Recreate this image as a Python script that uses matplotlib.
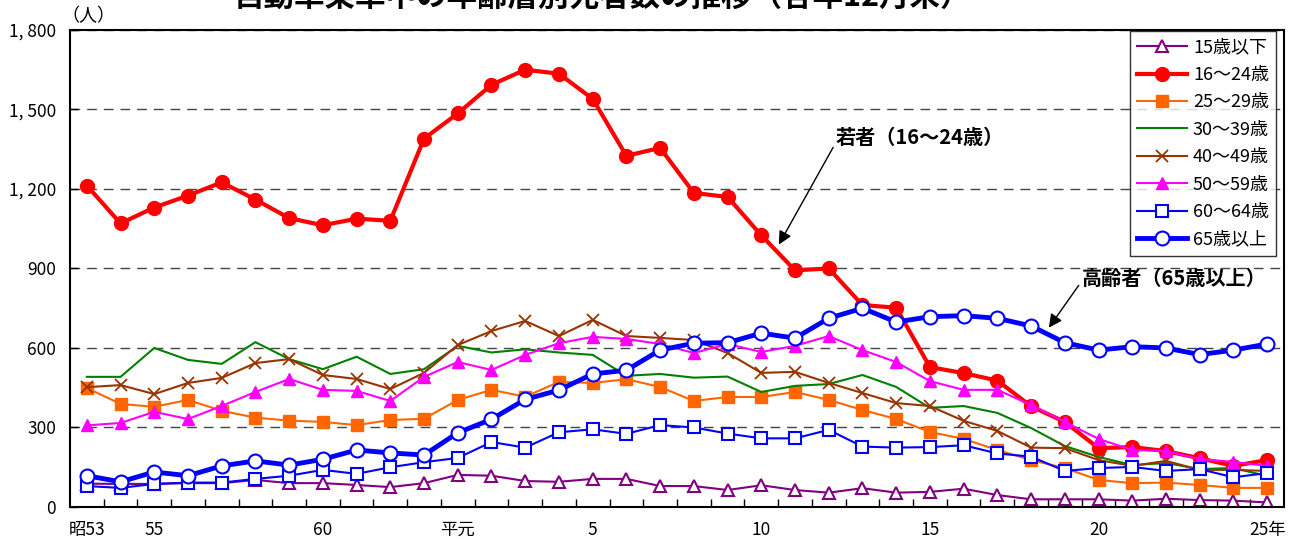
import matplotlib
matplotlib.use('Agg')
import matplotlib.pyplot as plt

plt.rcParams['font.family'] = ['Noto Sans CJK JP', 'DejaVu Sans']

# 昭和53年 ～ 平成25年
years = list(range(36))
tick_pos = [0, 2, 7, 11, 15, 20, 25, 30, 35]
tick_labels = ['昭53', '55', '60', '平元', '5', '10', '15', '20', '25年']
y_ticks = [0, 300, 600, 900, 1200, 1500, 1800]
y_labels = ['0', '300', '600', '900', '1, 200', '1, 500', '1, 800']

age_u15 = [88, 87, 87, 90, 90, 102, 90, 90, 83, 75, 90, 121, 118, 98, 95, 106,
           106, 79, 79, 64, 82, 64, 54, 71, 54, 57, 69, 45, 29, 29, 29, 24, 31,
           26, 24, 17]
age_16_24 = [1213, 1070, 1130, 1175, 1225, 1160, 1090, 1063, 1088, 1080, 1390,
             1485, 1593, 1650, 1635, 1540, 1325, 1355, 1185, 1170, 1025, 893,
             900, 762, 752, 528, 505, 477, 380, 321, 222, 226, 211, 184, 155,
             177]
age_25_29 = [449, 389, 378, 404, 363, 337, 326, 321, 309, 328, 333, 404, 442,
             416, 472, 468, 482, 453, 400, 415, 415, 434, 404, 366, 332, 283,
             257, 215, 177, 147, 102, 90, 92, 83, 72, 72]
age_30_39 = [491, 491, 600, 555, 540, 622, 558, 520, 567, 502, 520, 608, 583,
             595, 583, 574, 495, 502, 488, 492, 434, 457, 464, 498, 453, 374,
             381, 355, 298, 230, 189, 158, 166, 143, 147, 117]
age_40_49 = [452, 460, 426, 468, 487, 543, 558, 498, 483, 445, 506, 611, 664,
             702, 645, 706, 645, 638, 630, 581, 506, 510, 468, 430, 392, 381,
             325, 287, 224, 222, 177, 155, 174, 140, 140, 136]
age_50_59 = [308, 317, 359, 332, 381, 434, 483, 442, 438, 400, 491, 547, 517,
             574, 618, 642, 634, 615, 581, 615, 585, 608, 645, 592, 547, 475,
             442, 442, 385, 321, 257, 215, 211, 181, 170, 155]
age_60_64 = [79, 72, 87, 92, 92, 106, 118, 140, 125, 150, 169, 185, 245, 224,
             282, 293, 276, 309, 300, 277, 259, 259, 291, 228, 224, 226, 233,
             202, 190, 136, 147, 151, 136, 143, 112, 128]
age_65 = [118, 95, 132, 118, 155, 174, 158, 180, 215, 204, 196, 280, 331, 406,
          441, 502, 516, 592, 618, 620, 656, 637, 712, 750, 698, 718, 722, 712,
          683, 620, 592, 605, 600, 575, 592, 615]

fig = plt.figure(figsize=(13, 5.39), dpi=100)
ax = fig.add_axes([0.0538, 0.0594, 0.9339, 0.885])

ax.plot(years, age_u15, color='#800080', lw=1.5, marker='^', ms=9,
        mfc='white', mec='#800080', mew=1.5, label='15歳以下')
ax.plot(years, age_16_24, color='#FF0000', lw=3, marker='o', ms=10,
        label='16～24歳')
ax.plot(years, age_25_29, color='#FF6600', lw=1.5, marker='s', ms=8,
        label='25～29歳')
ax.plot(years, age_30_39, color='#008000', lw=1.5, label='30～39歳')
ax.plot(years, age_40_49, color='#993300', lw=1.5, marker='x', ms=9, mew=1.3,
        label='40～49歳')
ax.plot(years, age_50_59, color='#FF00FF', lw=1.5, marker='^', ms=9,
        label='50～59歳')
ax.plot(years, age_60_64, color='#0000FF', lw=1.5, marker='s', ms=8,
        mfc='white', mec='#0000FF', mew=1.5, label='60～64歳')
ax.plot(years, age_65, color='#0000FF', lw=3.5, marker='o', ms=10,
        mfc='white', mec='#0000FF', mew=1.5, label='65歳以上')

ax.set_xlim(-0.5, 35.5)
ax.set_ylim(0, 1800)
ax.set_yticks(y_ticks)
ax.set_yticklabels(y_labels, fontsize=12.5)
ax.set_xticks(tick_pos)
ax.set_xticklabels(tick_labels, fontsize=12.5)
ax.tick_params(axis='x', length=0, pad=10)
ax.set_xticks([i + 0.5 for i in years[:-1]], minor=True)
ax.tick_params(axis='x', which='minor', direction='in', length=6, width=1)
ax.tick_params(axis='y', direction='in', length=6, width=1, pad=10)
for s in ax.spines.values():
    s.set_linewidth(1.5)
ax.grid(axis='y', ls=(0, (7, 5)), color='#444444', lw=1)
ax.set_axisbelow(True)

fig.text(0.047, 1 - 16 / 539, '（人）', fontsize=13, va='center', ha='left')

leg = ax.legend(loc='upper right', bbox_to_anchor=(0.9935, 0.997),
                fontsize=13, frameon=True, fancybox=False,
                edgecolor='black', handlelength=2.8, handletextpad=0.3,
                labelspacing=0.52, borderpad=0.4, borderaxespad=0)
leg.get_frame().set_linewidth(1)

# 若者
ax.annotate('', xy=(20.48, 981), xytext=(22.17, 1366),
            arrowprops=dict(arrowstyle='-|>', color='black', lw=1,
                            mutation_scale=20))
ax.text(22.2, 1396, '若者（16～24歳）', fontsize=14.5, fontweight='bold',
        ha='left', va='center')
# 高齢者
ax.annotate('', xy=(28.48, 668), xytext=(29.46, 845),
            arrowprops=dict(arrowstyle='-|>', color='black', lw=1,
                            mutation_scale=20))
ax.text(29.5, 864, '高齢者（65歳以上）', fontsize=14.5, fontweight='bold',
        ha='left', va='center')

fig.text(0.463, 1.006, '自動車乗車中の年齢層別死者数の推移（各年12月末）',
         fontsize=22, fontweight='bold', ha='center', va='center')

fig.savefig('out.png', dpi=100)
